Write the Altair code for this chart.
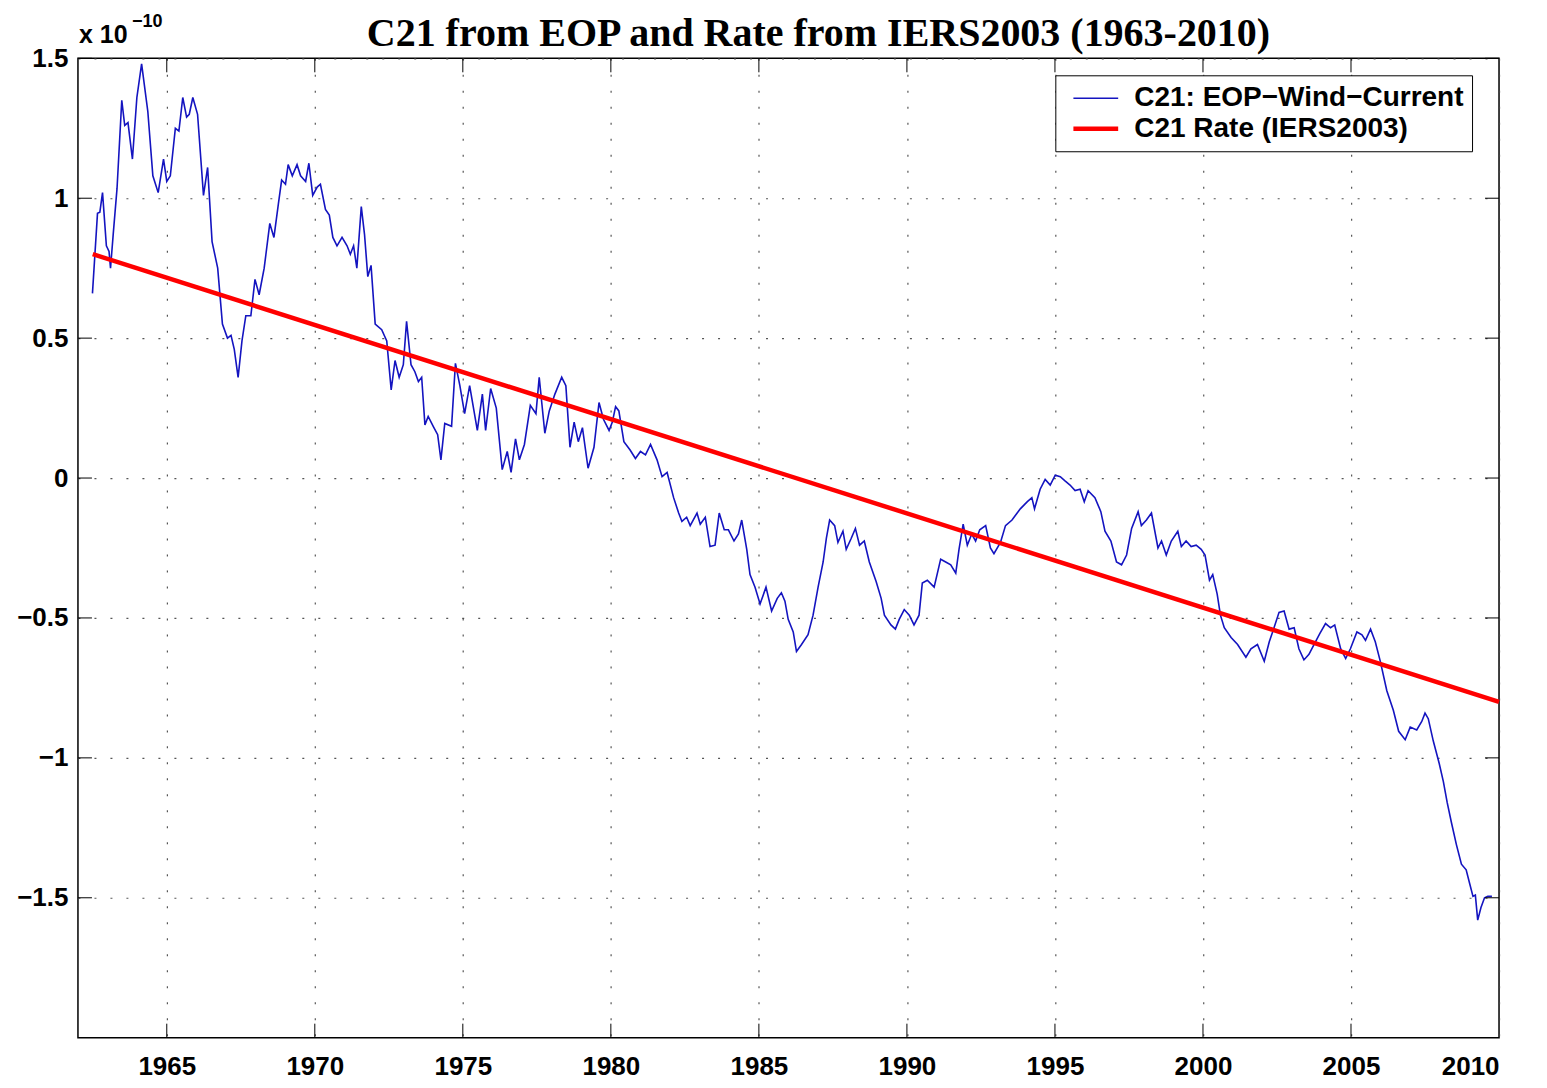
import altair as alt
import pandas as pd

# ---------------- data ----------------
years = [
    1962.49, 1962.66, 1962.74, 1962.83, 1962.96, 1963.05, 1963.10, 1963.19, 1963.32, 1963.48,
    1963.58, 1963.69, 1963.84, 1963.99, 1964.15, 1964.36, 1964.53, 1964.71, 1964.89, 1965.00,
    1965.12, 1965.29, 1965.41, 1965.54, 1965.67, 1965.76, 1965.88, 1966.04, 1966.24, 1966.38,
    1966.53, 1966.72, 1966.88, 1967.05, 1967.17, 1967.28, 1967.41, 1967.54, 1967.67, 1967.84,
    1967.98, 1968.12, 1968.29, 1968.48, 1968.62, 1968.77, 1968.88, 1969.01, 1969.10, 1969.24,
    1969.40, 1969.52, 1969.69, 1969.80, 1969.93, 1970.08, 1970.19, 1970.36, 1970.49, 1970.61,
    1970.75, 1970.92, 1971.09, 1971.20, 1971.31, 1971.42, 1971.57, 1971.68, 1971.79, 1971.90,
    1972.04, 1972.26, 1972.43, 1972.58, 1972.71, 1972.85, 1972.99, 1973.10, 1973.25, 1973.38,
    1973.50, 1973.61, 1973.72, 1973.83, 1974.00, 1974.15, 1974.26, 1974.39, 1974.62, 1974.75,
    1974.90, 1975.06, 1975.23, 1975.49, 1975.66, 1975.77, 1975.94, 1976.13, 1976.33, 1976.50,
    1976.63, 1976.78, 1976.91, 1977.08, 1977.28, 1977.47, 1977.58, 1977.77, 1977.92, 1978.11,
    1978.34, 1978.48, 1978.62, 1978.76, 1978.90, 1979.04, 1979.23, 1979.43, 1979.60, 1979.75,
    1979.94, 1980.05, 1980.16, 1980.27, 1980.44, 1980.65, 1980.83, 1981.00, 1981.17, 1981.34,
    1981.56, 1981.73, 1981.90, 1982.12, 1982.29, 1982.40, 1982.56, 1982.68, 1982.91, 1983.02,
    1983.19, 1983.35, 1983.52, 1983.66, 1983.83, 1983.97, 1984.16, 1984.31, 1984.42, 1984.59,
    1984.70, 1984.87, 1985.04, 1985.24, 1985.43, 1985.62, 1985.76, 1985.88, 1985.99, 1986.16,
    1986.27, 1986.44, 1986.66, 1986.83, 1987.00, 1987.17, 1987.28, 1987.39, 1987.56, 1987.67,
    1987.84, 1987.95, 1988.12, 1988.26, 1988.40, 1988.56, 1988.73, 1988.96, 1989.13, 1989.24,
    1989.46, 1989.61, 1989.74, 1989.91, 1990.08, 1990.24, 1990.41, 1990.52, 1990.69, 1990.92,
    1991.14, 1991.31, 1991.48, 1991.65, 1991.76, 1991.90, 1992.04, 1992.19, 1992.32, 1992.46,
    1992.66, 1992.82, 1992.94, 1993.16, 1993.33, 1993.55, 1993.83, 1994.06, 1994.22, 1994.31,
    1994.50, 1994.67, 1994.84, 1995.01, 1995.18, 1995.34, 1995.51, 1995.68, 1995.85, 1995.99,
    1996.12, 1996.35, 1996.55, 1996.69, 1996.89, 1997.08, 1997.25, 1997.42, 1997.59, 1997.81,
    1997.92, 1998.09, 1998.26, 1998.48, 1998.60, 1998.76, 1998.93, 1999.15, 1999.27, 1999.43,
    1999.60, 1999.77, 1999.94, 2000.07, 2000.22, 2000.33, 2000.48, 2000.59, 2000.72, 2000.95,
    2001.17, 2001.45, 2001.62, 2001.84, 2002.07, 2002.24, 2002.40, 2002.57, 2002.74, 2002.91,
    2003.08, 2003.24, 2003.41, 2003.58, 2003.75, 2003.95, 2004.14, 2004.31, 2004.45, 2004.65,
    2004.82, 2004.98, 2005.20, 2005.37, 2005.49, 2005.66, 2005.82, 2005.99, 2006.21, 2006.43,
    2006.61, 2006.83, 2007.00, 2007.22, 2007.39, 2007.50, 2007.61, 2007.78, 2007.98, 2008.12,
    2008.25, 2008.39, 2008.56, 2008.73, 2008.89, 2009.01, 2009.12, 2009.20, 2009.28, 2009.39,
    2009.51, 2009.62, 2009.76,
]
c21_values = [
    0.66, 0.946, 0.95, 1.02, 0.83, 0.81, 0.75, 0.87, 1.035, 1.35,
    1.26, 1.27, 1.14, 1.36, 1.48, 1.31, 1.08, 1.02, 1.14, 1.06,
    1.08, 1.25, 1.24, 1.36, 1.29, 1.30, 1.36, 1.30, 1.01, 1.11,
    0.845, 0.75, 0.55, 0.50, 0.51, 0.46, 0.36, 0.49, 0.58, 0.58,
    0.71, 0.655, 0.75, 0.91, 0.86, 0.98, 1.065, 1.05, 1.12, 1.08,
    1.12, 1.08, 1.06, 1.125, 1.01, 1.04, 1.05, 0.96, 0.94, 0.86,
    0.83, 0.86, 0.83, 0.80, 0.83, 0.75, 0.97, 0.87, 0.72, 0.76,
    0.55, 0.53, 0.49, 0.315, 0.42, 0.36, 0.405, 0.56, 0.405, 0.38,
    0.345, 0.36, 0.19, 0.22, 0.185, 0.155, 0.065, 0.195, 0.185, 0.41,
    0.33, 0.23, 0.33, 0.17, 0.30, 0.17, 0.32, 0.25, 0.03, 0.095,
    0.02, 0.14, 0.065, 0.12, 0.26, 0.23, 0.36, 0.16, 0.24, 0.30,
    0.36, 0.33, 0.11, 0.20, 0.13, 0.18, 0.035, 0.11, 0.27, 0.21,
    0.17, 0.20, 0.255, 0.24, 0.13, 0.10, 0.07, 0.095, 0.083, 0.12,
    0.065, 0.005, 0.02, -0.07, -0.125, -0.155, -0.14, -0.17, -0.125, -0.165,
    -0.14, -0.245, -0.24, -0.125, -0.185, -0.185, -0.225, -0.20, -0.15, -0.255,
    -0.345, -0.39, -0.45, -0.39, -0.475, -0.43, -0.41, -0.44, -0.505, -0.55,
    -0.62, -0.595, -0.56, -0.49, -0.39, -0.30, -0.215, -0.15, -0.17, -0.23,
    -0.19, -0.255, -0.215, -0.18, -0.24, -0.225, -0.30, -0.37, -0.43, -0.49,
    -0.525, -0.54, -0.505, -0.47, -0.49, -0.525, -0.49, -0.375, -0.365, -0.39,
    -0.29, -0.30, -0.31, -0.34, -0.255, -0.165, -0.24, -0.20, -0.225, -0.185,
    -0.17, -0.25, -0.27, -0.23, -0.17, -0.15, -0.11, -0.085, -0.07, -0.11,
    -0.04, -0.005, -0.025, 0.01, 0.005, -0.01, -0.025, -0.045, -0.04, -0.085,
    -0.045, -0.07, -0.12, -0.19, -0.225, -0.30, -0.31, -0.275, -0.18, -0.12,
    -0.17, -0.15, -0.125, -0.25, -0.225, -0.275, -0.225, -0.19, -0.245, -0.225,
    -0.245, -0.24, -0.255, -0.275, -0.365, -0.345, -0.415, -0.49, -0.535, -0.57,
    -0.595, -0.64, -0.61, -0.595, -0.655, -0.585, -0.535, -0.48, -0.475, -0.54,
    -0.535, -0.61, -0.65, -0.63, -0.595, -0.555, -0.52, -0.535, -0.525, -0.61,
    -0.645, -0.61, -0.55, -0.56, -0.58, -0.54, -0.585, -0.655, -0.76, -0.83,
    -0.905, -0.935, -0.89, -0.90, -0.87, -0.84, -0.86, -0.94, -1.02, -1.085,
    -1.16, -1.23, -1.31, -1.38, -1.40, -1.45, -1.495, -1.49, -1.58, -1.535,
    -1.50, -1.495, -1.495,
]
rate_years = [1962.5, 2010.0]
rate_values = [0.80, -0.80]

series_names = ["C21: EOP\u2212Wind\u2212Current", "C21 Rate (IERS2003)"]
x_tick_values = [1965, 1970, 1975, 1980, 1985, 1990, 1995, 2000, 2005, 2010]
y_tick_values = [-1.5, -1.0, -0.5, 0.0, 0.5, 1.0, 1.5]
x_domain = [1962, 2010]
y_domain = [-2.0, 1.5]

title_text = ["C21 from EOP and Rate from IERS2003 (1963-2010)"]
scale_text = ["x 10"]
scale_exp_text = ["\u221210"]

# ---------------- tables ----------------
df_c21 = pd.DataFrame({"year": years, "value": c21_values, "series": series_names[0]})
df_rate = pd.DataFrame({"year": rate_years, "value": rate_values, "series": series_names[1]})
df_xt = pd.DataFrame({"year": x_tick_values[:-1]})
df_yt = pd.DataFrame({"value": y_tick_values})

W, H = 1422, 980
FONT = "Liberation Sans"

xs = alt.Scale(domain=x_domain, nice=False, zero=False)
ys = alt.Scale(domain=y_domain, nice=False, zero=False)
x_axis = alt.Axis(values=x_tick_values, format="d", grid=True, labelPadding=16, title=None)
y_axis = alt.Axis(values=y_tick_values, format="~g", grid=True, labelPadding=10, title=None)

x_enc = alt.X("year:Q", scale=xs, axis=x_axis)
y_enc = alt.Y("value:Q", scale=ys, axis=y_axis)

legend = alt.Legend(
    title=None, orient="none", legendX=978, legendY=17,
    symbolType="M-1.6,0L1.6,0", symbolSize=784, symbolOffset=16, labelOffset=22,
    labelFont=FONT, labelFontWeight="bold", labelFontSize=28, labelColor="black",
    labelLimit=0, fillColor="white", strokeColor="black", padding=8, rowPadding=-2,
)
color_enc = alt.Color("series:N", scale=alt.Scale(domain=series_names, range=["#1414c0", "#ff0000"]),
                      legend=legend)
sw_enc = alt.StrokeWidth("series:N", scale=alt.Scale(domain=series_names, range=[1.6, 4.5]),
                         legend=legend)

blue = alt.Chart(df_c21).mark_line().encode(x=x_enc, y=y_enc, color=color_enc, strokeWidth=sw_enc)
red = alt.Chart(df_rate).mark_line().encode(x=x_enc, y=y_enc, color=color_enc, strokeWidth=sw_enc)

tick_len = 14
xt_bottom = alt.Chart(df_xt).mark_rule(color="black", strokeWidth=1).encode(
    x=x_enc, y=alt.value(H), y2=alt.value(H - tick_len))
xt_top = alt.Chart(df_xt).mark_rule(color="black", strokeWidth=1).encode(
    x=x_enc, y=alt.value(0), y2=alt.value(tick_len))
yt_left = alt.Chart(df_yt).mark_rule(color="black", strokeWidth=1).encode(
    y=y_enc, x=alt.value(0), x2=alt.value(tick_len))
yt_right = alt.Chart(df_yt).mark_rule(color="black", strokeWidth=1).encode(
    y=y_enc, x=alt.value(W), x2=alt.value(W - tick_len))

title = alt.Chart(pd.DataFrame({"t": title_text})).mark_text(
    font="Liberation Serif", fontSize=40, fontWeight="bold", align="center",
    baseline="alphabetic", color="black").encode(text="t:N", x=alt.value(741), y=alt.value(-12))
scale_lbl = alt.Chart(pd.DataFrame({"t": scale_text})).mark_text(
    font=FONT, fontSize=25, fontWeight="bold", align="left",
    baseline="alphabetic", color="black").encode(text="t:N", x=alt.value(1), y=alt.value(-15))
scale_exp = alt.Chart(pd.DataFrame({"t": scale_exp_text})).mark_text(
    font=FONT, fontSize=18, fontWeight="bold", align="left",
    baseline="alphabetic", color="black").encode(text="t:N", x=alt.value(54), y=alt.value(-31))

chart = alt.layer(
    blue, red, xt_bottom, xt_top, yt_left, yt_right, title, scale_lbl, scale_exp
).properties(
    width=W, height=H,
    autosize=alt.AutoSizeParams(type="none"),
    padding={"left": 70, "top": 50, "right": 40, "bottom": 42},
).configure_view(
    stroke="black", strokeWidth=1.5
).configure_axis(
    domain=False, ticks=False, tickSize=0,
    labelFont=FONT, labelFontWeight="bold", labelFontSize=26, labelColor="black",
    gridColor="#444444", gridDash=[2, 14], gridWidth=1.2, gridOpacity=0.9,
)

chart.save("out.html", embed_options={"renderer": "svg", "actions": False})
